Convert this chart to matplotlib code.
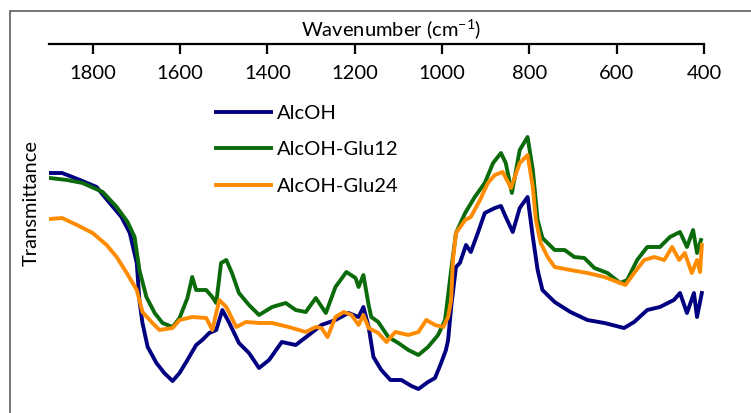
import matplotlib
matplotlib.use('Agg')
import matplotlib.pyplot as plt
from matplotlib.patches import Rectangle

plt.rcParams['font.family'] = ['Lato', 'DejaVu Sans']

# AlcOH
wn_alcoh = [1898, 1870, 1829, 1791, 1761, 1734, 1715, 1699, 1693, 1686, 1674, 1654, 1636, 1617,
            1601, 1583, 1563, 1549, 1533, 1517, 1503, 1487, 1465, 1442, 1419, 1396, 1367, 1335,
            1305, 1276, 1244, 1214, 1191, 1180, 1168, 1157, 1139, 1118, 1093, 1070, 1054, 1032,
            1016, 1002, 991, 986, 979, 968, 959, 945, 934, 918, 902, 879, 865, 854, 838, 822,
            804, 792, 781, 770, 742, 706, 667, 628, 583, 560, 530, 501, 469, 455, 439, 423,
            416, 405]
t_alcoh = [227, 227, 220, 213, 197, 183, 167, 137, 100, 77, 53, 37, 27, 19,
           27, 40, 55, 60, 67, 70, 90, 77, 57, 47, 32, 40, 58, 55,
           65, 75, 80, 87, 83, 93, 73, 43, 30, 20, 20, 14, 11, 18,
           22, 37, 50, 60, 93, 133, 137, 155, 148, 167, 187, 192, 194, 183, 168, 192,
           203, 163, 130, 110, 98, 88, 80, 77, 72, 78, 90, 93, 100, 107, 87, 107,
           83, 107]

# AlcOH-Glu12
wn_glu12 = [1898, 1859, 1823, 1777, 1745, 1720, 1704, 1693, 1677, 1658, 1640, 1617, 1601, 1583,
            1572, 1563, 1540, 1526, 1517, 1506, 1494, 1481, 1465, 1442, 1419, 1389, 1358, 1335,
            1312, 1289, 1266, 1244, 1219, 1198, 1191, 1180, 1168, 1162, 1146, 1123, 1100, 1077,
            1054, 1032, 1009, 993, 979, 968, 947, 925, 902, 883, 865, 854, 840, 822, 804, 792,
            781, 770, 742, 719, 697, 674, 651, 621, 592, 576, 553, 530, 501, 478, 455, 439,
            425, 416, 407]
t_glu12 = [222, 220, 217, 208, 193, 178, 163, 130, 103, 87, 77, 73, 82, 102,
           123, 110, 110, 103, 97, 137, 140, 127, 107, 95, 85, 93, 97, 90,
           88, 102, 87, 113, 128, 122, 113, 125, 95, 83, 78, 63, 57, 50,
           45, 53, 65, 80, 130, 167, 187, 203, 217, 237, 247, 237, 207, 250, 263, 230,
           180, 162, 150, 150, 143, 142, 132, 127, 117, 120, 140, 153, 153, 163, 168, 153,
           170, 147, 160]

# AlcOH-Glu24
wn_glu24 = [1898, 1870, 1836, 1800, 1768, 1745, 1722, 1699, 1686, 1663, 1647, 1617, 1601, 1572,
            1540, 1526, 1510, 1494, 1471, 1449, 1419, 1389, 1351, 1312, 1289, 1276, 1262, 1244,
            1225, 1207, 1191, 1180, 1168, 1146, 1127, 1107, 1077, 1054, 1036, 1016, 997, 986,
            979, 975, 968, 947, 934, 913, 895, 879, 861, 842, 822, 804, 792, 785, 774, 758,
            742, 706, 667, 628, 592, 580, 560, 537, 514, 491, 473, 457, 444, 428, 416, 409,
            405]
t_glu24 = [181, 182, 175, 167, 155, 143, 127, 110, 88, 77, 70, 72, 80, 83,
           82, 70, 100, 93, 73, 78, 77, 77, 73, 68, 73, 72, 63, 83,
           88, 85, 75, 85, 72, 67, 58, 68, 65, 68, 80, 75, 73, 83,
           100, 140, 167, 180, 183, 200, 217, 225, 228, 212, 237, 245, 213, 180, 157, 143,
           133, 130, 127, 123, 117, 115, 127, 140, 143, 140, 153, 140, 147, 127, 140, 128,
           155]

series = [('AlcOH', wn_alcoh, t_alcoh, '#000080'),
          ('AlcOH-Glu12', wn_glu12, t_glu12, '#0b6b0b'),
          ('AlcOH-Glu24', wn_glu24, t_glu24, '#ff8c00')]

W, H = 751, 413
fig = plt.figure(figsize=(W / 100, H / 100), dpi=100)
ax = fig.add_axes([49 / W, 0, (704 - 49) / W, 1 - 44 / H])

for name, x, y, c in series:
    ax.plot(x, y, color=c, linewidth=2.8, label=name)

ax.set_xlim(1900, 400)
ax.set_ylim(-13, 356)
ax.set_xticks([1800, 1600, 1400, 1200, 1000, 800, 600, 400])

# x axis drawn at the top, labels under the line
ax.spines['bottom'].set_position(('axes', 1.0))
ax.spines['bottom'].set_linewidth(1.6)
for s in ['top', 'left', 'right']:
    ax.spines[s].set_visible(False)
ax.tick_params(axis='x', direction='out', length=7, width=1.6, pad=8, labelsize=14.5)
ax.set_yticks([])
ax.patch.set_alpha(0)

fig.text(391 / W, 1 - 30 / H, 'Wavenumber (cm$^{\\mathregular{-1}}$)', ha='center', va='center',
         fontsize=14.5)
fig.text(31 / W, 1 - 203 / H, 'Transmittance', ha='center', va='center', rotation=90, fontsize=14.5)

fig.legend(loc='upper left', bbox_to_anchor=(198 / W, 1 - 87 / H), frameon=False,
           fontsize=14.5, handlelength=2.7, handletextpad=0.3, labelspacing=0.95)

fig.patches.append(Rectangle((10 / W, -0.1), 1.2, 1.1 - 11 / H, transform=fig.transFigure,
                             fill=False, edgecolor='#6a6a6a', linewidth=1.3))

fig.savefig('out.png', dpi=100)
